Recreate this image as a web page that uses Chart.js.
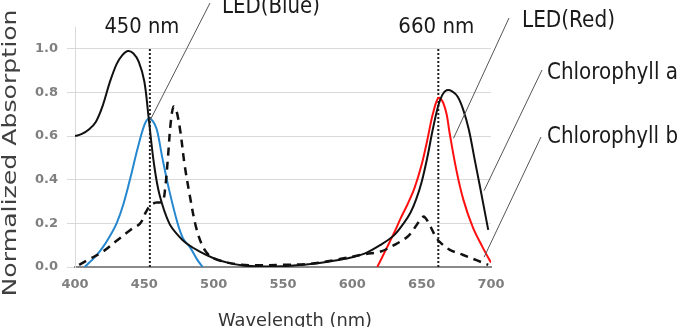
<!DOCTYPE html>
<html>
<head>
<meta charset="utf-8">
<script src="https://cdn.jsdelivr.net/npm/chart.js@4.4.1/dist/chart.umd.min.js"></script>
<style>
  html, body { margin: 0; padding: 0; background: #fff; }
  #wrap { width: 688px; height: 327px; }
</style>
</head>
<body>
<div id="wrap"><canvas id="spectra"></canvas></div>
<script>
// wavelength (nm) / normalized absorption
const chlAWl  = [400, 405, 410, 415, 420, 425, 430, 434, 438, 442, 446, 450, 453, 457, 461, 468, 475, 480, 490, 500, 510, 520, 530, 540, 550, 560, 570, 580, 590, 600, 610, 620, 630, 637, 642, 646, 650, 654, 658, 662, 665, 668, 672, 676, 680, 684, 688, 692, 698];
const chlAVal = [0.60, 0.61, 0.63, 0.665, 0.74, 0.845, 0.93, 0.97, 0.99, 0.98, 0.94, 0.85, 0.69, 0.47, 0.33, 0.20, 0.14, 0.11, 0.07, 0.04, 0.02, 0.008, 0.003, 0.002, 0.004, 0.008, 0.014, 0.022, 0.032, 0.045, 0.065, 0.10, 0.145, 0.20, 0.25, 0.31, 0.39, 0.50, 0.63, 0.74, 0.79, 0.81, 0.805, 0.78, 0.72, 0.63, 0.50, 0.37, 0.17];

const chlBWl  = [403, 410, 420, 430, 440, 447, 451, 454, 458, 463, 465, 467, 469, 471, 473, 476, 479, 483, 487, 491, 495, 500, 510, 520, 530, 550, 570, 590, 610, 620, 630, 640, 645, 650, 652, 656, 660, 663, 670, 680, 690, 698];
const chlBVal = [0.01, 0.035, 0.07, 0.12, 0.17, 0.20, 0.25, 0.28, 0.295, 0.30, 0.36, 0.50, 0.66, 0.735, 0.72, 0.62, 0.47, 0.32, 0.19, 0.11, 0.065, 0.04, 0.02, 0.01, 0.008, 0.01, 0.015, 0.035, 0.06, 0.07, 0.10, 0.14, 0.18, 0.225, 0.23, 0.19, 0.14, 0.115, 0.08, 0.055, 0.03, 0.01];

const blueWl  = [407, 415, 420, 425, 430, 435, 440, 445, 450, 453, 456, 459, 463, 468, 474, 478, 483, 488, 492];
const blueVal = [0.0, 0.05, 0.09, 0.14, 0.20, 0.29, 0.41, 0.54, 0.65, 0.68, 0.67, 0.63, 0.50, 0.35, 0.20, 0.13, 0.09, 0.035, 0.0];

const redWl  = [618, 625, 630, 635, 640, 645, 650, 654, 658, 662, 665, 668, 670, 675, 680, 687, 694, 700];
const redVal = [0.0, 0.09, 0.155, 0.225, 0.29, 0.365, 0.47, 0.58, 0.70, 0.775, 0.76, 0.70, 0.62, 0.445, 0.31, 0.18, 0.09, 0.02];

const markerWl = [454, 662];
const markerLabels = ['450 nm', '660 nm'];
const yTicks = [0, 0.2, 0.4, 0.6, 0.8, 1.0];

function toPoints(xs, ys) {
    return xs.map((x, i) => ({ x: x, y: ys[i] }));
}

// squeeze / stretch text to a measured width
function fitText(ctx, text, x, y, width, align) {
    const w = ctx.measureText(text).width;
    ctx.save();
    ctx.translate(x, y);
    ctx.scale(width / w, 1);
    ctx.textAlign = align;
    ctx.fillText(text, 0, 0);
    ctx.restore();
}

function leader(ctx, x1, y1, x2, y2) {
    ctx.beginPath();
    ctx.moveTo(x1, y1);
    ctx.lineTo(x2, y2);
    ctx.stroke();
}

const annotations = {
    id: 'annotations',
    afterDraw(chart) {
        const ctx = chart.ctx;
        const xs = chart.scales.x;
        const ys = chart.scales.y;
        ctx.save();
        ctx.textBaseline = 'alphabetic';

        // axis titles
        ctx.fillStyle = '#404040';
        ctx.font = '19px "DejaVu Sans"';
        ctx.save();
        ctx.translate(11, 153);
        ctx.rotate(-Math.PI / 2);
        ctx.textBaseline = 'middle';
        fitText(ctx, 'Normalized Absorption', 0, 0, 287, 'center');
        ctx.restore();
        ctx.fillStyle = '#333';
        ctx.font = '18px "DejaVu Sans"';
        fitText(ctx, 'Wavelength (nm)', 295, 326, 154, 'center');

        // marker labels
        ctx.fillStyle = '#1a1a1a';
        ctx.font = '22px "DejaVu Sans"';
        fitText(ctx, markerLabels[0], xs.getPixelForValue(markerWl[0]) - 8, 33, 75, 'center');
        fitText(ctx, markerLabels[1], xs.getPixelForValue(markerWl[1]) - 2, 33, 76, 'center');

        // series labels
        ctx.font = '23px "DejaVu Sans"';
        fitText(ctx, 'LED(Blue)', 222, 13, 98, 'left');
        fitText(ctx, 'LED(Red)', 522, 27, 93, 'left');
        fitText(ctx, 'Chlorophyll a', 547, 79, 131, 'left');
        fitText(ctx, 'Chlorophyll b', 547, 143, 131, 'left');

        // leader lines
        ctx.strokeStyle = '#555';
        ctx.lineWidth = 1;
        leader(ctx, 210, 3, xs.getPixelForValue(454), ys.getPixelForValue(0.67));
        leader(ctx, 509, 18, xs.getPixelForValue(673), ys.getPixelForValue(0.59));
        leader(ctx, 542, 70, xs.getPixelForValue(695), ys.getPixelForValue(0.35));
        leader(ctx, 541, 137, xs.getPixelForValue(695), ys.getPixelForValue(0.045));
        ctx.restore();
    }
};

const datasets = [
    {
        label: 'Chlorophyll a',
        data: toPoints(chlAWl, chlAVal),
        borderColor: '#111',
        borderWidth: 2
    },
    {
        label: 'Chlorophyll b',
        data: toPoints(chlBWl, chlBVal),
        borderColor: '#111',
        borderWidth: 2.5,
        borderDash: [8, 6]
    },
    {
        label: 'LED(Blue)',
        data: toPoints(blueWl, blueVal),
        borderColor: '#2487cf',
        borderWidth: 2
    },
    {
        label: 'LED(Red)',
        data: toPoints(redWl, redVal),
        borderColor: '#ff1010',
        borderWidth: 2
    }
];

markerWl.forEach(function (w) {
    datasets.push({
        label: w + ' nm',
        data: [{ x: w, y: 0 }, { x: w, y: 1.0 }],
        borderColor: '#222',
        borderWidth: 2,
        borderDash: [2, 2],
        tension: 0
    });
});

const config = {
    type: 'line',
    data: { datasets: datasets },
    options: {
        responsive: true,
        maintainAspectRatio: false,
        animation: false,
        layout: { padding: { left: 0, right: 197, top: 27, bottom: 0 } },
        elements: {
            point: { radius: 0 },
            line: { tension: 0.35, fill: false }
        },
        plugins: {
            legend: { display: false },
            tooltip: { enabled: false }
        },
        scales: {
            x: {
                type: 'linear',
                min: 400,
                max: 700,
                grid: { display: false, drawTicks: false },
                border: { display: true, color: '#8a8a8a', width: 2 },
                ticks: {
                    stepSize: 50,
                    padding: 10,
                    color: '#7f7f7f',
                    font: { family: 'DejaVu Sans', size: 13, weight: 'bold' }
                },
                afterFit: function (scale) { scale.height = 60; }
            },
            y: {
                min: 0,
                max: 1.1,
                grid: { color: '#d9d9d9', tickLength: 8 },
                border: { display: true, color: '#d9d9d9', width: 1 },
                ticks: {
                    padding: 9,
                    color: '#7f7f7f',
                    font: { family: 'DejaVu Sans', size: 13, weight: 'bold' },
                    callback: function (value) { return value.toFixed(1); }
                },
                afterBuildTicks: function (scale) {
                    scale.ticks = yTicks.map(v => ({ value: v }));
                },
                afterFit: function (scale) { scale.width = 75; }
            }
        }
    },
    plugins: [annotations]
};

new Chart(document.getElementById('spectra'), config);
</script>
</body>
</html>
